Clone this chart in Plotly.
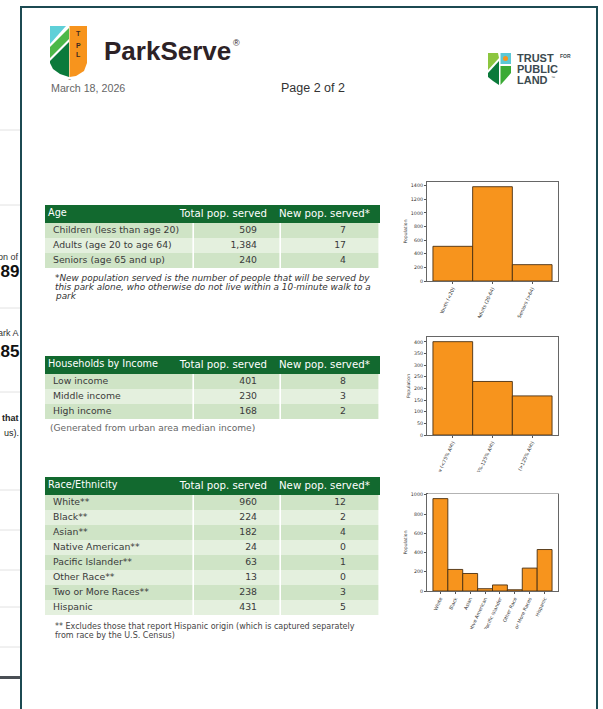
import plotly.graph_objects as go

# ---------------- data ----------------
age_labels = ["Children (less than age 20)", "Adults (age 20 to age 64)", "Seniors (age 65 and up)"]
age_total = [509, 1384, 240]
age_new = [7, 17, 4]
age_ticks = ["Youth (<20)", "Adults (20-64)", "Seniors (>64)"]

inc_labels = ["Low income", "Middle income", "High income"]
inc_total = [401, 230, 168]
inc_new = [8, 3, 2]
inc_ticks = ["Low (<75% AMI)", "Middle (75%-125% AMI)", "High (>125% AMI)"]

race_labels = ["White**", "Black**", "Asian**", "Native American**", "Pacific Islander**",
               "Other Race**", "Two or More Races**", "Hispanic"]
race_total = [960, 224, 182, 24, 63, 13, 238, 431]
race_new = [12, 2, 4, 0, 1, 0, 3, 5]
race_ticks = ["White", "Black", "Asian", "Native American", "Pacific Islander",
              "Other Race", "Two or More Races", "Hispanic"]

col_headers = ["Total pop. served", "New pop. served*"]

# ---------------- helpers ----------------
W, H = 603, 709
def fx(x): return x / W
def fy(y): return 1 - y / H

HDR = "#12692f"
ROW_A = "#cfe4c6"
ROW_B = "#e4f0de"
ORANGE = "#f7941d"
EDGE = "#4a3012"
FRAME = "#1c4a52"
TXT = "#3a3a3a"
FONT = "DejaVu Sans"
ARIAL = "Liberation Sans"

fig = go.Figure()
shapes = []
annotations = []

def path_px(points, close=True):
    s = "M " + " L ".join(f"{fx(x):.5f},{fy(y):.5f}" for x, y in points)
    return s + (" Z" if close else "")

def poly(points, color, layer="above"):
    shapes.append(dict(type="path", xref="paper", yref="paper", path=path_px(points),
                       fillcolor=color, line=dict(width=0), layer=layer))

def text(x, y, s, size, color=TXT, family=ARIAL, xanchor="left", yanchor="middle"):
    annotations.append(dict(x=fx(x), y=fy(y), xref="paper", yref="paper", text=s,
                            showarrow=False, xanchor=xanchor, yanchor=yanchor,
                            font=dict(size=size, color=color, family=family)))

# ---------------- background page / frame ----------------
for yy in [130, 205, 308, 392, 490, 530, 570, 607, 647]:
    shapes.append(dict(type="line", xref="paper", yref="paper", x0=0, x1=fx(20),
                       y0=fy(yy), y1=fy(yy), line=dict(color="#e2e2e2", width=1), layer="below"))
shapes.append(dict(type="rect", xref="paper", yref="paper", x0=0, x1=fx(20),
                   y0=fy(679), y1=fy(676), fillcolor="#4a4f55", line=dict(width=0), layer="below"))
text(21, 257, "on of", 9, "#333", xanchor="right")
text(21, 271, "<b>789</b>", 17, "#111", xanchor="right")
text(21, 333, "ark A", 9, "#333", xanchor="right")
text(21, 351, "<b>285</b>", 17, "#111", xanchor="right")
text(21, 418, "<b>that</b>", 9, "#222", xanchor="right")
text(21, 433, "us).", 9, "#222", xanchor="right")

shapes.append(dict(type="rect", xref="paper", yref="paper", x0=fx(21), x1=fx(597),
                   y0=fy(720), y1=fy(7), fillcolor="white",
                   line=dict(color=FRAME, width=2), layer="below"))

# ---------------- header ----------------
poly([(69.5, 26), (87, 26), (87, 63), (84, 71), (76, 76), (69.5, 77)], ORANGE)
poly([(50, 26), (69, 26), (69, 77), (60, 74), (53, 69), (50, 63)], "white")
poly([(50, 26), (66, 26), (50, 44)], "#5fd0d8")
poly([(50, 47), (69, 28), (69, 39), (50, 58)], "#4cb848")
poly([(50, 61), (69, 42), (69, 77), (60, 74), (53, 69), (50, 63)], "#0b7a3b")
for ch, yy in zip(["T", "P", "L"], [33, 45, 55]):
    text(78.5, yy, f"<b>{ch}</b>", 7, "#3b2a20", xanchor="center")
text(69, 80, "™", 3, "#333", xanchor="center")

text(102, 51, "<b>ParkServe</b>", 26, "#2d2226")
text(231, 43, "®", 9, "#2d2226")
text(49, 88, "March 18, 2026", 10.7, "#666")
text(313, 88, "Page 2 of 2", 12.5, "#333", xanchor="center")

poly([(488, 53), (498, 53), (499, 58), (488, 70)], "#8cc63f")
poly([(488, 73), (499, 61), (499, 85), (493, 81), (488, 77)], "#0b7a3b")
poly([(500.5, 53), (511, 53), (511, 64), (500.5, 64)], "#5bc8d6")
poly([(500.5, 66), (511, 66), (511, 73), (500.5, 85)], "#3aaa35")
shapes.append(dict(type="circle", xref="paper", yref="paper", x0=fx(503), x1=fx(508),
                   y0=fy(61), y1=fy(56), fillcolor=ORANGE, line=dict(width=0), layer="above"))
text(515, 58, "<b>TRUST</b>", 11, "#3a4a4f")
text(558, 56, "<b>FOR</b>", 5, "#3a4a4f")
text(515, 69, "<b>PUBLIC</b>", 11, "#3a4a4f")
text(515, 80, "<b>LAND</b>", 11, "#3a4a4f")
text(549, 77, "™", 4, "#3a4a4f")

# ---------------- tables (heatmap cells + text on a pixel-scaled hidden axis) ----------------
COL_EDGES = [45, 194, 281, 380]
HDR_H, ROW_H = 18, 15

def add_table(title, labels, total, new, top):
    n = len(labels)
    body_top = top + HDR_H
    row_edges = [body_top + ROW_H * i for i in range(n + 1)]
    centers = [body_top + ROW_H * (i + 0.5) for i in range(n)]
    fig.add_trace(go.Heatmap(x=[COL_EDGES[0], COL_EDGES[-1]], y=[top, body_top], z=[[0]],
                             colorscale=[[0, HDR], [1, HDR]], showscale=False,
                             xaxis="x4", yaxis="y4", hoverinfo="skip"))
    z = [[i % 2] * 3 for i in range(n)]
    fig.add_trace(go.Heatmap(x=COL_EDGES, y=row_edges, z=z, zmin=0, zmax=1,
                             colorscale=[[0, ROW_A], [1, ROW_B]], showscale=False,
                             xgap=1.6, ygap=0, xaxis="x4", yaxis="y4", hoverinfo="skip"))
    hc = top + HDR_H / 2
    fig.add_trace(go.Scatter(x=[48, 267], y=[hc, hc], text=[title, col_headers[0]], mode="text",
                             textposition=["middle right", "middle left"],
                             textfont=dict(family=FONT, size=[9.7, 10.2], color="white"),
                             xaxis="x4", yaxis="y4", hoverinfo="skip", showlegend=False))
    fig.add_trace(go.Scatter(x=[279], y=[hc], text=[col_headers[1]], mode="text",
                             textposition="middle right",
                             textfont=dict(family=FONT, size=10.2, color="white"),
                             xaxis="x4", yaxis="y4", hoverinfo="skip", showlegend=False))
    fig.add_trace(go.Scatter(x=[53] * n, y=centers, text=labels, mode="text",
                             textposition="middle right",
                             textfont=dict(family=FONT, size=9.3, color=TXT),
                             xaxis="x4", yaxis="y4", hoverinfo="skip", showlegend=False))
    fig.add_trace(go.Scatter(x=[257] * n, y=centers, text=[f"{v:,}" for v in total], mode="text",
                             textposition="middle left",
                             textfont=dict(family=FONT, size=9.3, color=TXT),
                             xaxis="x4", yaxis="y4", hoverinfo="skip", showlegend=False))
    fig.add_trace(go.Scatter(x=[346] * n, y=centers, text=[f"{v}" for v in new], mode="text",
                             textposition="middle left",
                             textfont=dict(family=FONT, size=9.3, color=TXT),
                             xaxis="x4", yaxis="y4", hoverinfo="skip", showlegend=False))

add_table("Age", age_labels, age_total, age_new, 205)
add_table("Households by Income", inc_labels, inc_total, inc_new, 356)
add_table("Race/Ethnicity", race_labels, race_total, race_new, 477)

text(53, 278.5, "<i>*New population served is the number of people that will be served by</i>", 8.9, "#333", FONT)
text(53, 287, "<i>this park alone, who otherwise do not live within a 10-minute walk to a</i>", 8.9, "#333", FONT)
text(53, 295.5, "<i>park</i>", 8.9, "#333", FONT)
text(48, 428, "(Generated from urban area median income)", 9.1, "#666", FONT)
text(53, 626.5, "** Excludes those that report Hispanic origin (which is captured separately", 8.0, "#444", FONT)
text(53, 635, "from race by the U.S. Census)", 8.0, "#444", FONT)

# ---------------- bar charts ----------------
axis_common = dict(showline=True, mirror=True, linecolor="#666", linewidth=1,
                   ticks="outside", ticklen=2, tickwidth=0.6, tickcolor="#555",
                   showgrid=False, zeroline=False, automargin=False, fixedrange=True,
                   tickfont=dict(family=FONT, size=4.8, color="#333"))

charts = [
    (age_ticks, age_total, 182, 281, 200),
    (inc_ticks, inc_total, 337, 435, 50),
    (race_ticks, race_total, 494, 591, 200),
]
layout_axes = {}
for i, (ticks, vals, top, bottom, dt) in enumerate(charts, start=1):
    xn = "x" if i == 1 else f"x{i}"
    yn = "y" if i == 1 else f"y{i}"
    n = len(vals)
    fig.add_trace(go.Bar(x=ticks, y=vals, xaxis=xn, yaxis=yn, width=1,
                         marker=dict(color=ORANGE, line=dict(color=EDGE, width=0.9)),
                         showlegend=False, hoverinfo="x+y"))
    layout_axes["xaxis" if i == 1 else f"xaxis{i}"] = dict(
        axis_common, domain=[fx(427), fx(558)], anchor=yn, type="category",
        range=[-0.5 - 0.05 * n, n - 0.5 + 0.05 * n], tickangle=-65)
    layout_axes["yaxis" if i == 1 else f"yaxis{i}"] = dict(
        axis_common, domain=[fy(bottom), fy(top)], anchor=xn,
        range=[0, max(vals) * 1.05], dtick=dt,
        title=dict(text="Population", font=dict(family=FONT, size=4.6, color="#333"), standoff=3))

layout_axes["xaxis4"] = dict(domain=[0, 1], range=[0, W], visible=False, fixedrange=True,
                             anchor="y4", showgrid=False, zeroline=False)
layout_axes["yaxis4"] = dict(domain=[0, 1], range=[H, 0], visible=False, fixedrange=True,
                             anchor="x4", showgrid=False, zeroline=False)

# masks reproducing the cropped bottom edge of each chart image
for x0, y0, y1 in [(400, 318, 334), (400, 472, 490.5), (428, 490, 493.4), (400, 629, 660)]:
    shapes.append(dict(type="rect", xref="paper", yref="paper", x0=fx(x0), x1=fx(594),
                       y0=fy(y1), y1=fy(y0), fillcolor="white", line=dict(width=0), layer="above"))

fig.update_layout(width=W, height=H, margin=dict(l=0, r=0, t=0, b=0),
                  paper_bgcolor="white", plot_bgcolor="rgba(0,0,0,0)",
                  shapes=shapes, annotations=annotations, showlegend=False,
                  **layout_axes)

fig.write_html("out.html", config={"displayModeBar": False},
               post_script="document.body.style.margin='0';")
